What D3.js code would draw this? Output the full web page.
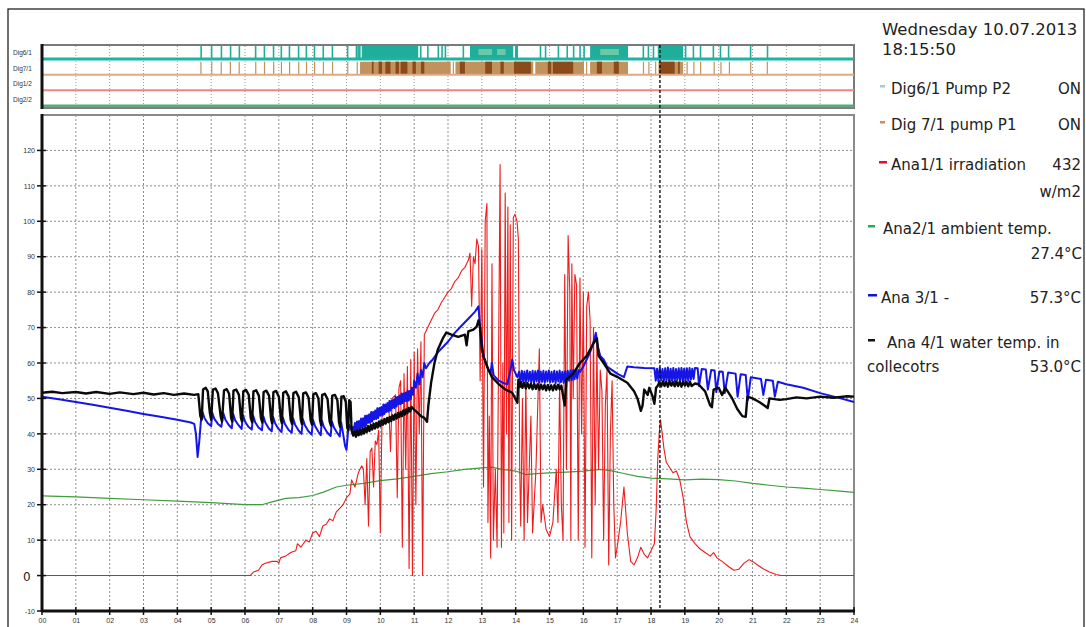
<!DOCTYPE html>
<html>
<head>
<meta charset="utf-8">
<script src="https://cdn.jsdelivr.net/npm/d3@7"></script>
<style>
  html, body { margin: 0; padding: 0; background: #fff; }
  svg { display: block; }
  .tick-label { font-family: "Liberation Sans", Arial, sans-serif; font-size: 7px; fill: #333; }
  .legend { font-family: "DejaVu Sans", sans-serif; fill: #222; }
</style>
</head>
<body>
<svg id="chart" width="1086" height="627"></svg>
<script>
// ---- axis labels ----
const hourLabels = ["00","01","02","03","04","05","06","07","08","09","10","11","12",
                    "13","14","15","16","17","18","19","20","21","22","23","24"];
const valueTicks = [-10, 0, 10, 20, 30, 40, 50, 60, 70, 80, 90, 100, 110, 120];
const digitalChannels = ["Dig6/1", "Dig7/1", "Dig1/2", "Dig2/2"];

// ---- digital channels: [on, off] in hours ----
const pumpP2On = [[4.68,4.72],[4.99,5.03],[5.28,5.32],[5.55,5.59],[5.81,5.85],[6.29,6.33],[6.55,6.59],
  [6.82,6.86],[7.05,7.09],[7.29,7.33],[7.56,7.6],[7.79,7.83],[8.03,8.07],[8.29,8.33],[8.56,8.6],[9.01,9.05],
  [9.27,9.29],[9.32,9.34],[9.37,9.39],[9.45,11.12],[11.17,11.21],[11.38,11.42],[11.69,11.72],[11.8,11.84],
  [11.9,11.93],[12.43,12.47],[12.65,13.93],[13.98,14.07],[14.71,14.74],[14.86,14.89],[15.24,15.27],
  [15.5,15.54],[15.69,15.72],[15.88,15.92],[16.0,16.04],[16.2,17.32],[17.75,17.78],[17.9,17.93],
  [18.05,18.08],[18.2,18.95],[19.0,19.03],[19.23,19.26],[19.44,19.47],[19.82,19.85],[20.03,20.06],
  [20.27,20.3],[20.92,20.95],[21.42,21.45]];
const pumpP2Partial = [[12.9,13.3],[13.45,13.7],[16.5,17.05]];

const pumpP1On = [[4.68,4.71],[5.0,5.03],[5.28,5.31],[5.55,5.58],[5.81,5.84],[6.3,6.33],[6.56,6.59],
  [6.83,6.86],[7.06,7.09],[7.3,7.33],[7.57,7.6],[7.8,7.83],[8.04,8.07],[8.3,8.33],[8.57,8.6],[9.02,9.05],
  [9.3,9.33],[9.4,12.08],[12.14,12.17],[12.22,14.52],[14.58,16.02],[16.08,16.11],[16.2,17.32],
  [17.76,17.79],[17.92,17.95],[18.12,18.15],[18.22,18.95],[19.05,19.08],[19.25,19.28],[19.45,19.48],
  [19.85,19.88],[20.05,20.08],[20.3,20.33],[20.93,20.96],[21.42,21.45]];
const pumpP1Dense = [[9.75,9.8],[9.95,10.05],[10.15,10.3],[10.45,10.55],[10.6,10.8],[10.95,11.05],
  [11.2,11.3],[12.35,12.5],[13.1,13.3],[13.55,13.65],[13.95,14.45],[14.95,15.05],[15.1,15.7],[16.4,16.55],
  [16.9,17.05],[18.25,18.7],[18.8,18.85]];

// ---- Ana1/1 irradiation (scaled), [hour, value] ----
const irradiation = [[0,0],[6.15,0],[6.25,1],[6.4,1.5],[6.5,3],[6.6,3.5],[6.8,4],[6.95,4],[7.0,3.5],[7.05,5],
  [7.2,5.5],[7.35,6.5],[7.5,7],[7.55,9],[7.65,8],[7.8,10],[7.9,9.5],[8.0,12],[8.1,12.5],[8.2,11],[8.3,14],
  [8.4,14.5],[8.5,16],[8.6,15.5],[8.7,18],[8.8,19],[8.9,20],[9.0,22],[9.1,23],[9.15,27],[9.25,25],[9.35,29],
  [9.45,31],[9.5,30],[9.55,20],[9.6,33],[9.65,14],[9.7,35],[9.75,36],[9.8,25],[9.85,38],[9.9,37],[9.95,41],
  [10.0,12],[10.05,45],[10.15,46],[10.25,48],[10.3,35],[10.35,50],[10.45,51],[10.5,22],[10.55,53],[10.6,55],
  [10.65,8],[10.7,57],[10.75,30],[10.8,59],[10.85,2],[10.9,61],[10.95,0],[11.0,63],[11.05,20],[11.1,64],
  [11.15,40],[11.2,66],[11.25,0],[11.3,68],[11.4,70],[11.5,72],[11.6,74],[11.7,75],[11.8,77],[11.9,78.5],
  [12.0,80],[12.1,81],[12.2,83],[12.3,84],[12.4,86],[12.5,87],[12.6,89],[12.65,91],[12.7,76],[12.75,90],
  [12.8,88],[12.85,95],[12.9,93],[12.95,55],[13.0,92],[13.05,25],[13.1,100],[13.15,105],[13.18,15],
  [13.22,45],[13.26,5],[13.3,88],[13.34,10],[13.4,30],[13.45,8],[13.54,116],[13.58,8],[13.62,60],[13.65,12],
  [13.69,108],[13.73,40],[13.77,104],[13.8,15],[13.84,99],[13.88,10],[13.93,101],[13.98,102],[14.04,100],
  [14.08,95],[14.12,30],[14.15,14],[14.2,50],[14.25,10],[14.3,55],[14.35,15],[14.45,45],[14.5,12],[14.6,30],
  [14.7,64],[14.75,15],[14.8,20],[14.9,13],[15.0,11],[15.1,15],[15.2,30],[15.25,15],[15.3,55],[15.35,20],
  [15.4,10],[15.45,85],[15.5,30],[15.55,96],[15.6,80],[15.63,10],[15.66,88],[15.7,50],[15.75,85],[15.8,82],
  [15.85,10],[15.9,84],[15.95,40],[16.0,80],[16.05,8],[16.1,76],[16.15,80],[16.2,72],[16.25,5],[16.3,70],
  [16.35,20],[16.4,65],[16.45,30],[16.5,58],[16.55,52],[16.6,10],[16.65,48],[16.7,58],[16.75,3],[16.8,40],
  [16.85,55],[16.9,20],[16.95,5],[17.0,8],[17.1,15],[17.2,25],[17.3,12],[17.4,4],[17.5,3],[17.6,5],[17.7,8],
  [17.8,6],[17.9,5],[18.0,7],[18.1,9],[18.15,18],[18.2,33],[18.25,41],[18.28,44],[18.32,41],[18.38,36],
  [18.45,32],[18.55,30.5],[18.65,29],[18.75,29.5],[18.85,27],[18.95,22],[19.05,15],[19.15,11],[19.3,9],
  [19.45,7.5],[19.6,6.5],[19.75,5.5],[19.85,6.5],[19.95,5],[20.1,4],[20.3,2.5],[20.45,1.5],[20.6,1.8],
  [20.75,3.5],[20.9,4.5],[21.0,4],[21.15,3],[21.3,2],[21.5,1],[21.7,0.3],[21.85,0],[24,0]];

// ---- Ana2/1 ambient temperature ----
const ambientTemp = [[0,22.5],[1,22.2],[2,21.8],[3,21.4],[4,21],[5,20.6],[5.5,20.3],[6,20],[6.5,20],
  [6.8,20.8],[7.2,21.8],[7.6,22],[8,22.6],[8.3,23.5],[8.7,25],[9,25.5],[9.5,26],[10,26.8],[10.5,27.3],
  [11,28],[11.5,28.8],[12,29.3],[12.5,30],[13,30.4],[13.3,30.6],[13.6,30],[14,29.5],[14.3,28.5],[14.6,28.8],
  [15,29],[15.5,29.2],[16,29.5],[16.5,30],[16.8,29.6],[17.2,28.8],[17.6,28],[18,27.5],[18.5,27.3],[19,27],
  [19.5,27.2],[20,27.1],[20.5,26.7],[21,26],[21.5,25.5],[22,25],[22.5,24.7],[23,24.3],[23.5,23.9],[24,23.5]];

// ---- Ana 3/1 ----
const ana3 = [[0,50.5],[0.5,49.8],[1,49],[1.5,48.2],[2,47.4],[2.5,46.5],[3,45.6],[3.5,44.8],[4,44],[4.4,43.2],
  [4.5,42.8],[4.55,40],[4.6,33.5],[4.65,38],[4.7,44],[4.74,46.3],[4.8,44.5],[4.9,43],[5.0,42.2],[5.03,46],
  [5.09,44.3],[5.2,42.8],[5.3,42],[5.36,45.8],[5.42,44],[5.52,42.5],[5.61,41.6],[5.65,45.6],[5.71,43.8],
  [5.82,42.3],[5.9,41.4],[5.94,45.3],[6.0,43.5],[6.1,42],[6.2,41.2],[6.24,45.2],[6.3,43.3],[6.4,41.8],
  [6.5,41],[6.54,45],[6.6,43.2],[6.7,41.6],[6.79,40.7],[6.83,44.8],[6.89,43],[6.99,41.4],[7.08,40.5],
  [7.12,44.6],[7.18,42.8],[7.28,41.2],[7.38,40.3],[7.42,44.4],[7.48,42.6],[7.58,41],[7.67,40],[7.71,44.2],
  [7.77,42.4],[7.87,40.8],[7.97,39.8],[8.01,44],[8.07,42.2],[8.17,40.6],[8.24,39.6],[8.27,43.8],[8.33,42],
  [8.43,40.4],[8.53,39.4],[8.57,43.5],[8.63,41.8],[8.73,40.2],[8.8,39.3],[8.84,43.3],[8.9,40],[8.96,36.5],
  [9.0,35.5],[9.04,40],[9.08,42.5],[9.15,41.2],[9.2,42],
  [9.22,40.5],[9.25,43.1],[9.28,40.6],[9.31,43.5],[9.34,41.3],[9.37,43.6],[9.4,41.4],[9.43,44.3],[9.46,41.9],
  [9.49,44.4],[9.52,42.1],[9.55,45.1],[9.58,42.4],[9.61,45.2],[9.64,43.1],[9.67,45.5],[9.7,43.1],[9.73,46.2],
  [9.76,43.5],[9.79,46.2],[9.82,44.1],[9.85,46.6],[9.88,44.2],[9.91,47.2],[9.94,44.5],[9.97,47.3],[10.0,45.2],
  [10.03,47.6],[10.06,45.2],[10.09,48.3],[10.12,45.6],[10.15,48.3],[10.18,46.2],[10.21,48.7],[10.24,46.3],
  [10.27,49.3],[10.3,46.6],[10.33,49.4],[10.36,47.3],[10.39,49.7],[10.42,47.3],[10.45,50.4],[10.48,47.7],
  [10.51,50.4],[10.54,48.3],[10.57,50.8],[10.6,48.4],[10.63,51.4],[10.66,48.7],[10.69,51.4],[10.72,49.2],
  [10.75,51.7],[10.78,49.2],[10.81,52.2],[10.84,49.4],[10.87,52.1],[10.9,49.8],
  [10.93,53],[10.97,51],[11.0,55],[11.05,53],[11.1,57],[11.15,54],[11.2,58],[11.25,56],[11.3,60],[11.35,58.5],
  [11.45,60],[11.55,61],[11.7,63],[11.85,64.5],[12.0,66],[12.2,68.5],[12.4,70.5],[12.6,72.5],[12.8,74.5],
  [12.9,76],[12.95,70],[13.0,66],[13.05,62],[13.15,59],[13.25,57],[13.3,60],[13.35,56.5],[13.5,55],
  [13.6,54.5],[13.75,54],[13.85,58],[13.9,61],[13.95,58],[14.05,56],[14.1,57.5],
  [14.14,54.6],[14.18,57.8],[14.22,54.8],[14.26,57.6],[14.3,54.5],[14.34,57.9],[14.38,54.9],[14.42,57.5],
  [14.46,54.6],[14.5,57.8],[14.54,54.4],[14.58,57.7],[14.62,54.8],[14.66,57.9],[14.7,54.5],[14.74,57.6],
  [14.78,54.7],[14.82,57.8],[14.86,54.4],[14.9,57.6],[14.94,54.8],[14.98,57.9],[15.02,54.5],[15.06,57.5],
  [15.1,54.7],[15.14,57.8],[15.18,54.3],[15.22,57.6],[15.26,54.8],[15.3,57.9],[15.34,54.6],[15.38,57.5],
  [15.42,54.4],[15.46,57.7],[15.5,54.9],[15.54,57.8],[15.58,55],[15.62,57.9],[15.66,55.2],[15.7,58],
  [15.74,55.4],[15.78,58.1],[15.82,55.6],[15.86,58],[15.9,57.5],
  [16.0,59],[16.1,61],[16.2,63],[16.3,66],[16.37,68.5],[16.42,65],[16.5,62],[16.6,61],[16.7,59],[16.85,58],
  [17.0,57],[17.2,56],[17.3,59],[17.5,58.8],[17.8,58.6],[18.1,58.5],
  [18.14,55],[18.18,58.4],[18.22,54.8],[18.26,58.6],[18.3,55.2],[18.34,58.3],[18.38,54.9],[18.42,58.5],
  [18.46,55.1],[18.5,58.7],[18.54,54.7],[18.58,58.4],[18.62,55],[18.66,58.6],[18.7,54.8],[18.74,58.3],
  [18.78,55.2],[18.82,58.5],[18.86,54.9],[18.9,58.6],[18.94,55.1],[18.98,58.4],[19.02,54.8],[19.06,58.5],
  [19.1,55],[19.14,58.6],[19.18,55.3],[19.22,58.4],[19.26,55.5],[19.3,58.6],
  [19.38,58.5],[19.42,53.5],[19.5,58.3],[19.62,58.2],[19.68,52.5],[19.78,58],[19.88,57.9],[19.93,51.8],
  [20.02,57.6],[20.12,57.5],[20.18,51.5],[20.28,57.3],[20.5,57],[20.56,50.5],[20.65,56.8],[20.8,56.6],
  [20.86,49.5],[20.95,56],[21.25,55.5],[21.32,51],[21.4,55.3],[21.6,55],[21.66,50.5],[21.75,54.7],
  [22,54],[22.5,53],[23,51.5],[23.5,50.3],[24,49]];

// ---- Ana 4/1 water temperature in collectors ----
const waterTemp = [[0,51.6],[0.3,51.9],[0.6,51.5],[1.0,51.8],[1.3,51.4],[1.6,51.8],[2.0,51.3],[2.3,51.7],
  [2.7,51.2],[3.0,51.6],[3.3,51.1],[3.6,51.5],[3.9,51.0],[4.2,51.4],[4.5,51.0],[4.62,51.2],
  [4.68,45],[4.72,44],[4.76,52.5],[4.84,53],[4.9,52],[4.96,46],[5.0,44],[5.05,52.5],[5.13,52.8],[5.2,51.5],
  [5.28,45],[5.32,43.5],[5.38,52.3],[5.46,52.6],[5.53,51.3],[5.59,44.5],[5.62,43.5],[5.66,52.2],[5.74,52.5],
  [5.82,51],[5.88,44.5],[5.91,43.5],[5.95,52],[6.03,52.4],[6.11,51],[6.17,44.5],[6.21,43.3],[6.25,52],
  [6.33,52.3],[6.41,50.8],[6.47,44.5],[6.51,43.2],[6.55,51.8],[6.63,52.2],[6.71,50.8],[6.77,44.3],[6.8,43],
  [6.84,51.8],[6.92,52.1],[7.0,50.5],[7.06,44.2],[7.09,43],[7.13,51.6],[7.21,52],[7.29,50.5],[7.35,44],
  [7.39,42.8],[7.43,51.5],[7.51,51.9],[7.59,50.3],[7.65,44],[7.68,42.8],[7.72,51.4],[7.8,51.7],[7.88,50.2],
  [7.94,43.8],[7.98,42.6],[8.02,51.2],[8.1,51.5],[8.17,50],[8.22,43.8],[8.25,42.5],[8.28,51],[8.36,51.3],
  [8.44,49.8],[8.5,43.5],[8.54,42.3],[8.58,50.8],[8.66,51],[8.73,49.5],[8.78,43.2],[8.81,42],[8.85,50.5],
  [8.92,50.6],[8.98,49],[9.02,42],[9.05,41],[9.08,49.5],[9.12,49],[9.15,41],[9.2,39.5],
  [9.24,40.6],[9.28,39.2],[9.32,40.9],[9.36,39.6],[9.4,41.2],[9.44,39.8],[9.48,41.6],[9.52,40.1],[9.56,41.8],
  [9.6,40.5],[9.64,42.2],[9.68,40.8],[9.72,42.5],[9.76,41.2],[9.8,42.9],[9.84,41.5],[9.88,43.1],[9.92,41.8],
  [9.96,43.5],[10.0,42.2],[10.04,43.8],[10.08,42.6],[10.12,44.2],[10.16,42.9],[10.2,44.5],[10.24,43.3],
  [10.28,44.8],[10.32,43.6],[10.36,45.2],[10.4,44],[10.44,45.5],[10.48,44.3],[10.52,45.9],[10.56,44.7],
  [10.6,46.2],[10.64,45],[10.68,46.6],[10.72,45.4],[10.76,46.9],[10.8,45.8],[10.84,47.3],[10.88,46.3],
  [10.92,47.6],[11.0,46.8],[11.1,46],[11.2,45],[11.3,44.5],[11.38,43.4],[11.42,48],[11.5,54.4],[11.6,60],
  [11.7,63.8],[11.85,67],[11.95,68.6],[12.1,68],[12.3,67.4],[12.5,68],[12.55,65],[12.6,68.9],[12.75,69.4],
  [12.85,70.3],[12.9,72],[12.95,70],[13.0,64],[13.05,61.8],[13.2,58],[13.3,56],[13.5,54],[13.7,52.5],
  [13.9,51.6],[14.05,48.8],[14.08,55.3],
  [14.12,53.2],[14.16,54.6],[14.2,53],[14.25,54.4],[14.3,52.8],[14.35,54.3],[14.4,52.9],[14.45,54.2],
  [14.5,52.6],[14.55,54.1],[14.6,52.7],[14.65,54],[14.7,52.5],[14.75,53.9],[14.8,52.6],[14.85,53.8],
  [14.9,52.3],[14.95,53.8],[15.0,52.4],[15.05,53.7],[15.1,52.3],[15.15,53.8],[15.2,52.5],[15.25,53.9],
  [15.3,52.6],[15.35,53.6],[15.45,48],[15.5,55.3],[15.7,57],[15.9,60],[16.1,62],[16.3,65.5],[16.4,67],
  [16.45,62],[16.6,60],[16.8,57],[17.0,56.1],[17.3,54.4],[17.5,52],[17.6,50],[17.7,46.5],[17.75,48],
  [17.8,52.5],[17.9,51],[17.95,53],[18.05,50.5],[18.1,48.5],[18.15,53],
  [18.2,53.6],[18.25,54.6],[18.3,53.4],[18.35,54.8],[18.4,53.5],[18.45,54.7],[18.5,53.3],[18.55,54.9],
  [18.6,53.6],[18.65,54.6],[18.7,53.4],[18.75,54.8],[18.8,53.5],[18.85,54.7],[18.9,53.3],[18.95,54.8],
  [19.0,53.6],[19.05,54.6],[19.1,53.4],[19.15,54.7],[19.2,53.5],[19.3,54.2],[19.4,54],
  [19.6,52],[19.75,48],[19.8,47.5],[19.85,52.5],[20.0,53],[20.1,51],[20.2,53],[20.4,50],[20.55,47],
  [20.7,45],[20.8,44.8],[20.85,50.5],[21.0,50],[21.2,49],[21.35,48],[21.45,47.3],[21.5,50],[21.8,49.6],
  [22.0,49.8],[22.3,50.3],[22.6,50],[23.0,50.5],[23.4,50.2],[23.8,50.6],[24,50.5]];

// ---- cursor and status panel ----
const cursorHour = 18 + 15 / 60 + 50 / 3600;
const dateLine = "Wednesday 10.07.2013";
const timeLine = "18:15:50";

// ---- layout ----
const svg = d3.select("#chart");
const plotLeft = 42, plotRight = 854;
const digTop = 45, digBottom = 108;
const mainTop = 115, mainBottom = 611;

const x = d3.scaleLinear().domain([0, 24]).range([plotLeft, plotRight]);
const y = d3.scaleLinear().domain([-10, 130]).range([mainBottom, mainTop]);
const digRow = d3.scalePoint().domain(digitalChannels).range([59, 106]);

// outer frame
svg.append("rect").attr("x", 8).attr("y", 9).attr("width", 1076).attr("height", 640)
  .attr("fill", "none").attr("stroke", "#111").attr("stroke-width", 1.2);

// ===== digital status strip =====
const dig = svg.append("g");
dig.append("rect").attr("x", plotLeft).attr("y", digTop)
  .attr("width", plotRight - plotLeft).attr("height", digBottom - digTop)
  .attr("fill", "#fff").attr("stroke", "#7a7a7a").attr("stroke-width", 2);

dig.selectAll("line.vgrid").data(d3.range(1, 24)).join("line")
  .attr("x1", d => x(d)).attr("x2", d => x(d))
  .attr("y1", digTop + 1).attr("y2", digBottom - 1)
  .attr("stroke", "#9a9a9a").attr("stroke-width", 1).attr("stroke-dasharray", "1,2");

const rowY = name => digRow(name);
// pump P2 (Dig6/1)
dig.selectAll("rect.p2").data(pumpP2On).join("rect")
  .attr("x", d => x(d[0])).attr("y", digTop + 1)
  .attr("width", d => Math.max(1.6, x(d[1]) - x(d[0])))
  .attr("height", rowY("Dig6/1") - digTop - 1)
  .attr("fill", "#1fae9c");
dig.selectAll("rect.p2p").data(pumpP2Partial).join("rect")
  .attr("x", d => x(d[0])).attr("y", digTop + 4)
  .attr("width", d => x(d[1]) - x(d[0]))
  .attr("height", rowY("Dig6/1") - digTop - 8)
  .attr("fill", "#7fcfa8").attr("opacity", 0.8);
// pump P1 (Dig7/1)
dig.selectAll("rect.p1").data(pumpP1On).join("rect")
  .attr("x", d => x(d[0])).attr("y", rowY("Dig7/1") - 13)
  .attr("width", d => Math.max(1.2, x(d[1]) - x(d[0])))
  .attr("height", 13)
  .attr("fill", "#c0925e");
dig.selectAll("rect.p1d").data(pumpP1Dense).join("rect")
  .attr("x", d => x(d[0])).attr("y", rowY("Dig7/1") - 13)
  .attr("width", d => Math.max(1.2, x(d[1]) - x(d[0])))
  .attr("height", 13)
  .attr("fill", "#8a4a1a");

const rowColor = { "Dig6/1": "#1fb3a2", "Dig7/1": "#e2a882", "Dig1/2": "#f08582", "Dig2/2": "#5fa87a" };
const rowWidth = { "Dig6/1": 3, "Dig7/1": 2, "Dig1/2": 2, "Dig2/2": 3 };
dig.selectAll("line.row").data(digitalChannels).join("line")
  .attr("x1", plotLeft).attr("x2", plotRight)
  .attr("y1", d => rowY(d)).attr("y2", d => rowY(d))
  .attr("stroke", d => rowColor[d]).attr("stroke-width", d => rowWidth[d]);

dig.selectAll("text.row").data(digitalChannels).join("text")
  .attr("class", "tick-label")
  .attr("x", 13).attr("y", d => rowY(d) - 4)
  .style("font-size", "6.5px")
  .text(d => d);

dig.append("line").attr("x1", plotLeft).attr("x2", plotLeft)
  .attr("y1", digTop - 1).attr("y2", digBottom + 1)
  .attr("stroke", "#111").attr("stroke-width", 3);

// ===== analog chart =====
const main = svg.append("g");
main.append("rect").attr("x", plotLeft).attr("y", mainTop)
  .attr("width", plotRight - plotLeft).attr("height", mainBottom - mainTop)
  .attr("fill", "#fff").attr("stroke", "#8a8a8a").attr("stroke-width", 2);

// grid
main.selectAll("line.hgrid").data(valueTicks.filter(v => v > -10)).join("line")
  .attr("x1", plotLeft).attr("x2", plotRight)
  .attr("y1", d => y(d)).attr("y2", d => y(d))
  .attr("stroke", "#8f8f8f").attr("stroke-width", 1).attr("stroke-dasharray", "2,2");
main.selectAll("line.vgrid").data(d3.range(1, 24)).join("line")
  .attr("x1", d => x(d)).attr("x2", d => x(d))
  .attr("y1", mainTop).attr("y2", mainBottom)
  .attr("stroke", "#8f8f8f").attr("stroke-width", 1).attr("stroke-dasharray", "2,2");

// series
const line = d3.line().x(d => x(d[0])).y(d => y(d[1]));
main.append("path").datum(ambientTemp).attr("d", line)
  .attr("fill", "none").attr("stroke", "#3f9d3f").attr("stroke-width", 1.2);
main.append("path").datum(irradiation).attr("d", line)
  .attr("fill", "none").attr("stroke", "#ee1c1c").attr("stroke-width", 1.1)
  .attr("stroke-linejoin", "round");
main.append("path").datum(ana3).attr("d", line)
  .attr("fill", "none").attr("stroke", "#1515e6").attr("stroke-width", 2)
  .attr("stroke-linejoin", "round");
main.append("path").datum(waterTemp).attr("d", line)
  .attr("fill", "none").attr("stroke", "#0a0a0a").attr("stroke-width", 2.4)
  .attr("stroke-linejoin", "round");

// axes
const yAxis = d3.axisLeft(y).tickValues(valueTicks).tickSize(0).tickPadding(7)
  .tickFormat(d => d === 0 ? "" : d);
const gy = main.append("g").attr("transform", `translate(${plotLeft},0)`).call(yAxis);
gy.select(".domain").remove();
gy.selectAll("text").attr("class", "tick-label").attr("fill", null).style("font-size", "7px");

const xAxis = d3.axisBottom(x).tickValues(d3.range(0, 25)).tickSize(0).tickPadding(7)
  .tickFormat(d => hourLabels[d]);
const gx = main.append("g").attr("transform", `translate(0,${mainBottom})`).call(xAxis);
gx.select(".domain").remove();
gx.selectAll("text").attr("class", "tick-label").attr("fill", null).style("font-size", "7px");

main.append("line").attr("x1", plotLeft).attr("x2", plotLeft)
  .attr("y1", mainTop - 1).attr("y2", mainBottom + 1)
  .attr("stroke", "#111").attr("stroke-width", 3);
main.append("line").attr("x1", plotLeft - 1).attr("x2", plotRight + 1)
  .attr("y1", mainBottom).attr("y2", mainBottom)
  .attr("stroke", "#111").attr("stroke-width", 3);

// tick marks crossing the axes
main.selectAll("line.ytick").data(valueTicks).join("line")
  .attr("x1", plotLeft - 5).attr("x2", plotLeft + 4)
  .attr("y1", d => y(d)).attr("y2", d => y(d))
  .attr("stroke", "#111").attr("stroke-width", 1.5);
main.selectAll("line.xtick").data(d3.range(0, 25)).join("line")
  .attr("x1", d => x(d)).attr("x2", d => x(d))
  .attr("y1", mainBottom - 4).attr("y2", mainBottom + 4)
  .attr("stroke", "#111").attr("stroke-width", 1.5);

// enlarged zero label
main.append("text").attr("x", 23).attr("y", y(0) + 5)
  .attr("font-family", "DejaVu Sans, sans-serif").attr("font-size", 12).attr("fill", "#222")
  .text("0");

// cursor
svg.append("line").attr("x1", x(cursorHour)).attr("x2", x(cursorHour))
  .attr("y1", digTop).attr("y2", mainBottom)
  .attr("stroke", "#111").attr("stroke-width", 1.4).attr("stroke-dasharray", "3,2");

// ===== status / legend panel =====
const leg = svg.append("g").attr("class", "legend");
leg.append("text").attr("x", 882).attr("y", 35).style("font-size", "16.5px").text(dateLine);
leg.append("text").attr("x", 882).attr("y", 55).style("font-size", "16.5px").text(timeLine);

const legendRows = [
  { label: "Dig6/1 Pump P2", value: "ON", color: "#9ccfcf", tx: 891, mx: 880, base: 94, mw: 5 },
  { label: "Dig 7/1 pump P1", value: "ON", color: "#c8906a", tx: 891, mx: 880, base: 130, mw: 5 },
  { label: "Ana1/1 irradiation", value: "432", color: "#e0102a", tx: 891, mx: 879, base: 170, mw: 8 },
  { label: "Ana2/1 ambient temp.", value: null, color: "#22b04a", tx: 883, mx: 868, base: 234, mw: 7 },
  { label: "Ana 3/1 -", value: "57.3°C", color: "#1212d8", tx: 881, mx: 868, base: 303, mw: 9 },
  { label: "Ana 4/1 water temp. in", value: null, color: "#111", tx: 887, mx: 868, base: 348, mw: 7 }
];
const rowsG = leg.selectAll("g.row").data(legendRows).join("g");
rowsG.append("rect").attr("x", d => d.mx).attr("y", d => d.base - 9).attr("width", d => d.mw)
  .attr("height", 2.5).attr("fill", d => d.color);
rowsG.append("text").attr("x", d => d.tx).attr("y", d => d.base).style("font-size", "15px").text(d => d.label);
rowsG.filter(d => d.value).append("text").attr("x", 1081).attr("y", d => d.base)
  .attr("text-anchor", "end").style("font-size", "15px").text(d => d.value);

const extraLines = [
  { text: "w/m2", x: 1081, base: 197, anchor: "end" },
  { text: "27.4°C", x: 1082, base: 259, anchor: "end" },
  { text: "collecotrs", x: 867, base: 372, anchor: "start" },
  { text: "53.0°C", x: 1081, base: 372, anchor: "end" }
];
leg.selectAll("text.extra").data(extraLines).join("text")
  .attr("x", d => d.x).attr("y", d => d.base).attr("text-anchor", d => d.anchor)
  .style("font-size", "15px").text(d => d.text);
</script>
</body>
</html>
